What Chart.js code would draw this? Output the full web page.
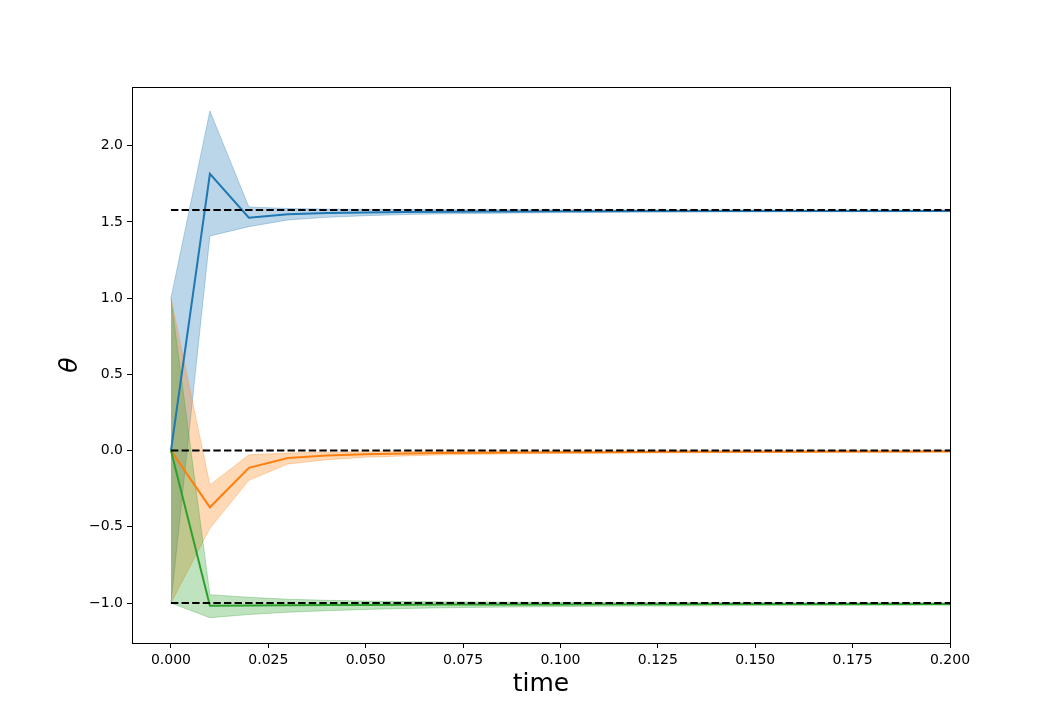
<!DOCTYPE html>
<html>
<head>
<meta charset="utf-8">
<script src="https://cdn.jsdelivr.net/npm/chart.js@4"></script>
<style>
  html, body { margin: 0; padding: 0; background: #fff; }
  canvas { display: block; }
</style>
</head>
<body>
<canvas id="chart" width="1055" height="722"></canvas>
<script>
"use strict";

// Time samples (the solver step is 0.01)
const times = [0, 0.01, 0.02, 0.03, 0.04, 0.05, 0.06, 0.07, 0.08, 0.09, 0.10,
               0.11, 0.12, 0.13, 0.14, 0.15, 0.16, 0.17, 0.18, 0.19, 0.20];

// theta_1 (blue): mean and band edges
const blueMean  = [0, 1.815, 1.528, 1.550, 1.558, 1.562, 1.565, 1.567, 1.568, 1.569, 1.570,
                   1.570, 1.571, 1.571, 1.571, 1.572, 1.572, 1.572, 1.572, 1.572, 1.572];
const blueUpper = [1.0, 2.228, 1.598, 1.588, 1.584, 1.582, 1.581, 1.580, 1.580, 1.580, 1.579,
                   1.579, 1.579, 1.579, 1.579, 1.579, 1.578, 1.578, 1.578, 1.578, 1.578];
const blueLower = [-1.0, 1.408, 1.469, 1.513, 1.530, 1.541, 1.548, 1.553, 1.556, 1.559, 1.561,
                   1.562, 1.563, 1.564, 1.565, 1.565, 1.566, 1.566, 1.566, 1.567, 1.567];

// theta_2 (orange)
const orangeMean  = [0, -0.372, -0.113, -0.048, -0.032, -0.024, -0.019, -0.016, -0.014, -0.012, -0.011,
                     -0.010, -0.009, -0.008, -0.008, -0.007, -0.007, -0.006, -0.006, -0.006, -0.005];
const orangeUpper = [1.0, -0.225, -0.028, -0.016, -0.010, -0.007, -0.005, -0.004, -0.003, -0.003, -0.002,
                     -0.002, -0.002, -0.001, -0.001, -0.001, -0.001, -0.001, -0.001, -0.001, -0.001];
const orangeLower = [-1.0, -0.510, -0.195, -0.088, -0.060, -0.043, -0.035, -0.028, -0.024, -0.021, -0.019,
                     -0.017, -0.016, -0.015, -0.014, -0.013, -0.012, -0.012, -0.011, -0.011, -0.010];

// theta_3 (green)
const greenMean  = [0, -1.017, -1.016, -1.015, -1.013, -1.012, -1.011, -1.010, -1.010, -1.009, -1.009,
                    -1.008, -1.008, -1.008, -1.007, -1.007, -1.007, -1.007, -1.006, -1.006, -1.006];
const greenUpper = [1.0, -0.945, -0.962, -0.975, -0.982, -0.987, -0.990, -0.992, -0.993, -0.994, -0.995,
                    -0.996, -0.996, -0.997, -0.997, -0.997, -0.998, -0.998, -0.998, -0.998, -0.998];
const greenLower = [-1.0, -1.096, -1.075, -1.060, -1.050, -1.042, -1.036, -1.031, -1.028, -1.025, -1.023,
                    -1.021, -1.020, -1.019, -1.018, -1.017, -1.016, -1.016, -1.015, -1.015, -1.014];

// Reference (target) values drawn as dashed lines from t=0 to t=0.2
const targets = [1.578, 0, -1];
const targetSpan = [0, 0.2];

const xTicks = [0, 0.025, 0.05, 0.075, 0.1, 0.125, 0.15, 0.175, 0.2];
const yTicks = [-1.0, -0.5, 0, 0.5, 1.0, 1.5, 2.0];

const C = {
  blue:   "#1f77b4",
  orange: "#ff7f0e",
  green:  "#2ca02c",
};

function alpha(hex, a) {
  const n = parseInt(hex.slice(1), 16);
  return `rgba(${(n >> 16) & 255},${(n >> 8) & 255},${n & 255},${a})`;
}

const pts = (ys) => times.map((t, i) => ({ x: t, y: ys[i] }));

const datasets = [];

// Bands get a high order so they are drawn underneath the lines
function addBand(upper, lower, color, order) {
  const upperIdx = datasets.length;
  datasets.push({
    data: pts(upper),
    borderColor: alpha(color, 0.3),
    borderWidth: 1,
    backgroundColor: alpha(color, 0.3),
    fill: upperIdx + 1,
    order,
  });
  datasets.push({
    data: pts(lower),
    borderColor: alpha(color, 0.3),
    borderWidth: 1,
    fill: false,
    order,
  });
}
addBand(blueUpper, blueLower, C.blue, 30);
addBand(orangeUpper, orangeLower, C.orange, 20);
addBand(greenUpper, greenLower, C.green, 10);

[[blueMean, C.blue], [orangeMean, C.orange], [greenMean, C.green]].forEach(([ys, col], k) => {
  datasets.push({
    data: pts(ys),
    borderColor: col,
    borderWidth: 2,
    fill: false,
    order: 5 - k,
  });
});

targets.forEach((v) => {
  datasets.push({
    data: targetSpan.map((t) => ({ x: t, y: v })),
    borderColor: "#000",
    borderWidth: 2,
    borderDash: [7.4, 3.2],
    fill: false,
    order: 0,
  });
});

// Full black frame round the plot area, like matplotlib spines
const frame = {
  id: "frame",
  afterDraw(chart) {
    const { ctx, chartArea: a } = chart;
    ctx.save();
    ctx.strokeStyle = "#000";
    ctx.lineWidth = 1;
    ctx.strokeRect(Math.round(a.left) + 0.5, Math.round(a.top) + 0.5,
                   Math.round(a.right - a.left), Math.round(a.bottom - a.top));
    ctx.restore();
  },
};

Chart.defaults.color = "#000";
Chart.defaults.font.family = "'DejaVu Sans', sans-serif";

const fmt = (v, d) => v.toFixed(d).replace("-", "\u2212");

new Chart(document.getElementById("chart"), {
  type: "line",
  data: { datasets },
  options: {
    responsive: false,
    animation: false,
    layout: { padding: { top: 87, right: 105, left: 0, bottom: 0 } },
    elements: { point: { radius: 0 }, line: { tension: 0 } },
    plugins: { legend: { display: false }, tooltip: { enabled: false } },
    scales: {
      x: {
        type: "linear",
        min: -0.01,
        max: 0.2,
        afterBuildTicks: (s) => { s.ticks = xTicks.map((v) => ({ value: v })); },
        afterFit: (s) => { s.height = 79; },
        grid: { drawOnChartArea: false, tickLength: 5, tickColor: "#000" },
        border: { display: false },
        ticks: {
          font: { size: 14 },
          padding: 4,
          maxRotation: 0,
          autoSkip: false,
          callback: (v) => fmt(v, 3),
        },
        title: {
          display: true,
          text: "time",
          font: { size: 25 },
          padding: 23,
        },
      },
      y: {
        type: "linear",
        min: -1.262,
        max: 2.385,
        afterBuildTicks: (s) => { s.ticks = yTicks.map((v) => ({ value: v })); },
        afterFit: (s) => { s.width = 132; },
        grid: { drawOnChartArea: false, tickLength: 5, tickColor: "#000" },
        border: { display: false },
        ticks: {
          font: { size: 14 },
          padding: 4,
          autoSkip: false,
          callback: (v) => fmt(v, 1),
        },
        title: {
          display: true,
          text: "\u03b8",
          font: { size: 25, style: "italic" },
          padding: 55,
        },
      },
    },
  },
  plugins: [frame],
});
</script>
</body>
</html>
